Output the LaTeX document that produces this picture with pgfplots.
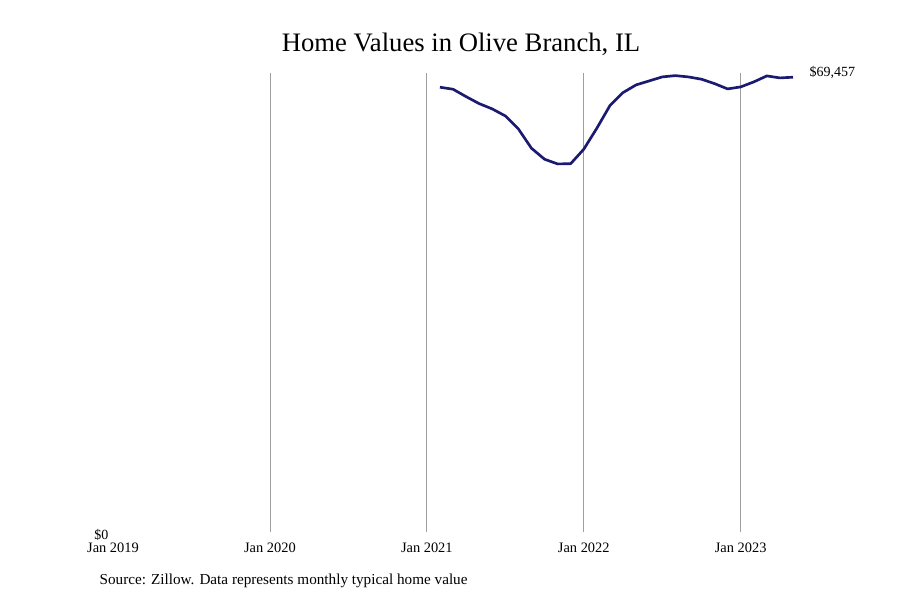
\documentclass[border=0pt]{standalone}
\usepackage{pgfplots}
\pgfplotsset{compat=1.18}
\usepackage{fontspec}
\setmainfont{Liberation Serif}
\definecolor{navyline}{HTML}{1B1A70}
\begin{document}
\begin{tikzpicture}[x=1pt,y=1pt]
\path[use as bounding box] (0,0) rectangle (675,450);
\begin{axis}[
  at={(84.75pt,51pt)}, anchor=south west,
  scale only axis, width=510pt, height=344.25pt,
  xmin=0, xmax=52, ymin=0, ymax=70100,
  scaled y ticks=false,
  axis line style={draw=none},
  tick style={draw=none},
  xtick={12,24,36,48},
  xticklabels={Jan 2020,Jan 2021,Jan 2022,Jan 2023},
  extra x ticks={0}, extra x tick labels={Jan 2019},
  extra x tick style={grid=none},
  ytick={0}, yticklabels={\$0},
  x tick label style={font=\fontsize{10.8}{12}\selectfont, yshift=-4.5pt},
  y tick label style={font=\fontsize{10.5}{12}\selectfont, yshift=-2.5pt, xshift=0pt},
  xmajorgrids, major grid style={draw=gray!75, line width=0.6pt},
  clip=false,
]
\addplot[navyline, line width=2pt, line join=round] coordinates {
(25,67928) (26,67622) (27,66492) (28,65423) (29,64613) (30,63544)
(31,61558) (32,58610) (33,56930) (34,56212) (35,56250) (36,58458)
(37,61665) (38,65118) (39,67103) (40,68279) (41,68890) (42,69501)
(43,69700) (44,69501) (45,69150) (46,68478) (47,67668) (48,67974)
(49,68738) (50,69654) (51,69349) (52,69457)
};
\node[anchor=west, font=\fontsize{10.5}{12}\selectfont, xshift=9pt, yshift=3.5pt] at (axis cs:52,69457) {\$69,457};
\end{axis}
\node[font=\fontsize{20}{22}\selectfont] at (345.75,417) {Home Values in Olive Branch, IL};
\node[anchor=west, font=\fontsize{11.4}{13}\selectfont, inner sep=0pt] at (74.5,14) {Source: Zillow. Data represents monthly typical home value};
\end{tikzpicture}
\end{document}
